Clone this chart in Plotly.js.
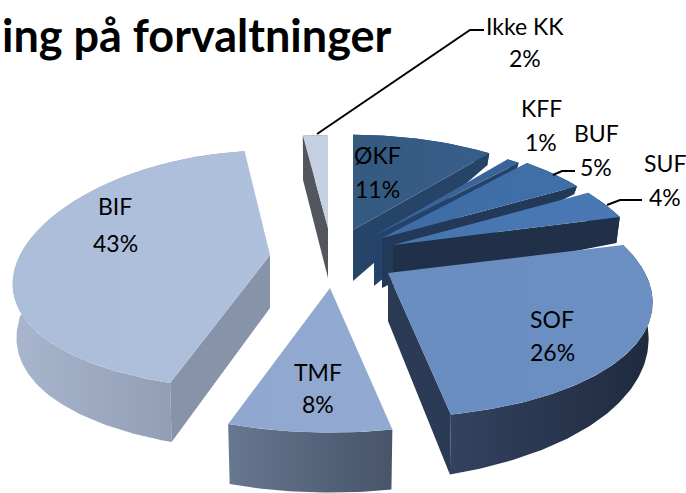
<!DOCTYPE html>
<html>
<head>
<meta charset="utf-8">
<script src="https://cdn.plot.ly/plotly-3.0.1.min.js"></script>
<style>html,body{margin:0;padding:0;background:#fff}#c{width:686px;height:493px}</style>
</head>
<body>
<div id="c"></div>
<script>
// Data
const categories = ['ØKF','KFF','BUF','SUF','SOF','TMF','BIF','Ikke KK'];
const shares = [11,1,5,4,26,8,43,2];
const titleText = 'ing på forvaltninger';

// Per-slice geometry of the exploded, tilted pie
const apexX = [353,374,382,393,388,330,270,328];
const apexY = [230,236,238,245,273,288,255,228];
const radius = [253,248,248,248,257,255,250,248];
const tilt = [0.24,0.24,0.2,0.184,0.184,0.184,0.13,0.27];
const depthApex  = [51,50,50,42,48,50,53,50];
const depthStart = [12,7,8,26,26,60,59,45];
const depthEnd   = [12,7,8,26,60,60,45,45];
// Which radial face is visible: 'end' or 'start' or none
const faceKind = ['end','end','end','end','end','none','start','start'];

const topA  = ['#35597F','#3A6497','#3F6CA4','#4675B0','#6A8DC1','#90A7CF','#ABBDD9','#C5D0E3'];
const topB  = ['#375F8C','#3A6497','#406FA8','#4978B4','#6C90C4','#92A9D1','#AEC0DC','#C5D0E3'];
const wallA = ['#264468','#26466E','#22395A','#1F3048','#33425F','#67778F','#A8B6CE','#55575F'];
const wallB = ['#264468','#26466E','#22395A','#1F3048','#1E2A3E','#47546A','#8793A8','#55575F'];
const faceCol = ['#264468','#24426A','#22395A','#1F3048','#2B3B56','#47546A','#8793A8','#54565E'];
const drawOrder = [7,6,0,1,2,3,4,5];

const labelX  = [377,541,596,665,552,318,115,525];
const nameY   = [155,108,133,163,319,372,206,26];
const pctY    = [189,142,167,197,352,404,243,58];
const leaders = [
  {x:[317,470,484], y:[134,30,30]},
  {x:[553,562,575], y:[175,171,171]},
  {x:[607,620,642], y:[205,200,200]}
];

// Scales
const perspX = 0.238, rimY = 118;
const total = shares.reduce((a,b)=>a+b,0);
let run = 0;
const startDeg = [], endDeg = [];
shares.forEach(v=>{ startDeg.push(run/total*360); run+=v; endDeg.push(run/total*360); });

function rim(i,deg){
  const t = deg*Math.PI/180, u = Math.sin(t), v = -Math.cos(t);
  return [apexX[i] + radius[i]*u/(1-perspX*v), apexY[i] + rimY*v/(1-tilt[i]*v)];
}
function lower(i,p,d){ return [p[0]+(apexX[i]-p[0])*0.015, p[1]+d]; }

function poly(pts,a,b,dir){
  const tr = {
    type:'scatter', mode:'lines', x:pts.map(p=>p[0]), y:pts.map(p=>p[1]),
    fill:'toself', line:{width:0}, hoverinfo:'skip', showlegend:false
  };
  if(a===b){ tr.fillcolor=a; }
  else { tr.fillgradient={type:dir||'horizontal',colorscale:[[0,a],[1,b]]}; }
  return tr;
}

const traces = [];
drawOrder.forEach(i=>{
  const s=startDeg[i], e=endDeg[i], n=Math.max(2,Math.ceil(e-s));
  const arc=[], low=[];
  for(let k=0;k<=n;k++){
    const d=s+(e-s)*k/n, p=rim(i,d);
    arc.push(p);
    low.push(lower(i,p,depthStart[i]+(depthEnd[i]-depthStart[i])*k/n));
  }
  const apex=[apexX[i],apexY[i]], apexL=[apexX[i],apexY[i]+depthApex[i]];
  // outer wall
  traces.push(poly(arc.concat(low.slice().reverse()),wallA[i],wallB[i]));
  // radial face
  if(faceKind[i]==='end'){
    traces.push(poly([apex,arc[n],low[n],apexL],faceCol[i],faceCol[i]));
  } else if(faceKind[i]==='start'){
    traces.push(poly([apex,arc[0],low[0],apexL],faceCol[i],faceCol[i]));
  }
  // top surface
  traces.push(poly([apex].concat(arc),topA[i],topB[i]));
});
leaders.forEach(l=>traces.push({
  type:'scatter',mode:'lines',x:l.x,y:l.y,line:{color:'#000',width:2},hoverinfo:'skip',showlegend:false
}));

const font='Lato, "Open Sans", sans-serif';
const annotations=[];
categories.forEach((c,i)=>{
  annotations.push({x:labelX[i],y:nameY[i],xref:'x',yref:'y',text:c,showarrow:false,xanchor:'center',yanchor:'middle',font:{family:font,size:23,color:'#000'}});
  annotations.push({x:labelX[i],y:pctY[i],xref:'x',yref:'y',text:shares[i]+'%',showarrow:false,xanchor:'center',yanchor:'middle',font:{family:font,size:23,color:'#000'}});
});
annotations.push({x:0,y:35,xref:'x',yref:'y',text:'<b>'+titleText+'</b>',showarrow:false,xanchor:'left',yanchor:'middle',font:{family:font,size:45,color:'#000'}});

Plotly.newPlot('c',traces,{
  width:686,height:493,margin:{l:0,r:0,t:0,b:0},
  paper_bgcolor:'#fff',plot_bgcolor:'#fff',showlegend:false,
  xaxis:{range:[0,686],visible:false,fixedrange:true},
  yaxis:{range:[493,0],visible:false,fixedrange:true},
  annotations:annotations
},{displayModeBar:false,staticPlot:true});
</script>
</body>
</html>
